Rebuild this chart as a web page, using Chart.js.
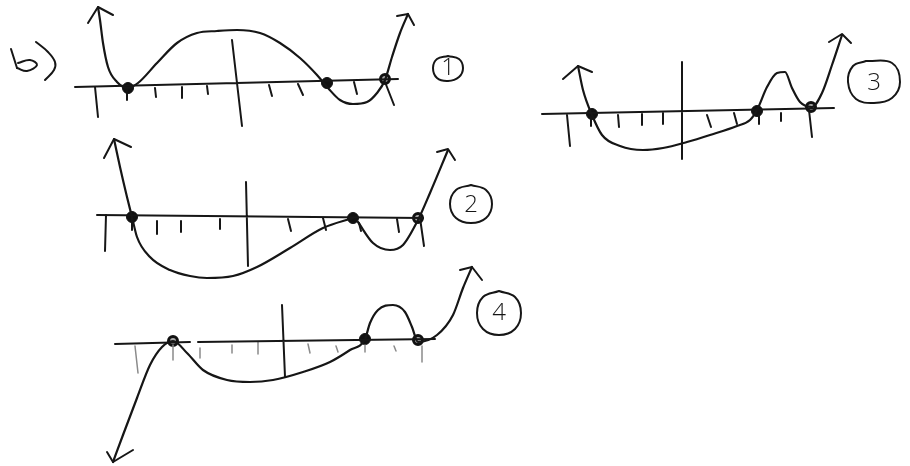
<!DOCTYPE html>
<html>
<head>
<meta charset="utf-8">
<style>
  html, body { margin: 0; padding: 0; background: #fff; }
  canvas { display: block; }
</style>
<script src="https://cdn.jsdelivr.net/npm/chart.js@4"></script>
</head>
<body>
<canvas id="chart" width="910" height="466"></canvas>
<script>
const curve1 = [[98,7],[100,20],[103,43],[108,67],[117,82],[128,88],[138,83],[157,63],[177,43],[197,33],[217,31],[237,30],[260,33],[280,43],[300,58],[317,75],[328,88],[340,100],[353,104],[367,102],[377,93],[385,80],[392,57],[400,33],[408,14]];
const curve2 = [[114,139],[120,167],[127,197],[132,217],[137,237],[150,257],[170,270],[190,276],[207,278],[233,276],[257,267],[290,248],[323,228],[353,218]];
const curve2b = [[358,222],[373,243],[390,250],[403,245],[418,220],[430,193],[448,150]];
const curve3 = [[578,66],[583,90],[592,115],[602,135],[620,146],[643,150],[663,148],[687,142],[710,135],[737,126],[750,120],[757,110],[767,87],[777,73],[785,72],[792,88],[800,102],[812,107],[822,93],[832,65],[842,35]];
const curve4 = [[113,462],[123,435],[137,398],[150,365],[162,347],[173,341],[187,353],[203,370],[227,380],[250,382],[273,380],[303,372],[330,362],[350,350],[365,339],[370,323],[378,310],[393,305],[405,312],[412,327],[418,342],[437,335],[453,315],[463,288],[472,267]];

const axes = [
  [[75,87],[398,79]], [[232,40],[242,126]],
  [[97,215],[423,218]], [[246,182],[248,266]],
  [[542,114],[834,108]], [[682,62],[682,159]],
  [[115,344],[190,342]], [[198,342],[435,339]], [[282,305],[285,377]]
];
const arrows = [
  [[88,23],[98,7],[113,15]], [[397,16],[408,14],[414,25]],
  [[104,158],[114,139],[131,147]], [[437,152],[448,149],[455,160]],
  [[563,79],[578,66],[592,72]], [[829,42],[842,34],[851,43]],
  [[107,452],[113,462],[133,450]], [[460,270],[472,267],[482,280]]
];
const ticks = [
  [[95,87],[98,117]], [[127,90],[127,100]], [[155,88],[156,97]], [[182,87],[182,98]], [[207,86],[208,94]],
  [[269,85],[272,96]], [[298,84],[303,95]], [[354,82],[357,94]], [[385,82],[394,105]],
  [[106,215],[105,251]], [[132,218],[132,230]], [[157,221],[157,234]], [[181,221],[181,232]], [[220,219],[220,229]],
  [[288,219],[291,231]], [[323,218],[326,230]], [[359,223],[361,231]], [[397,219],[399,232]], [[420,218],[424,246]],
  [[567,115],[570,146]], [[591,117],[591,126]], [[618,115],[619,127]], [[642,114],[642,125]], [[663,113],[663,124]],
  [[707,115],[711,127]], [[734,113],[737,124]], [[759,115],[759,124]], [[781,113],[781,121]], [[809,110],[812,137]]
];
const faintTicks = [
  [[135,346],[138,373]], [[173,345],[173,360]], [[200,348],[200,358]], [[232,345],[232,353]], [[258,342],[258,354]],
  [[308,344],[310,353]], [[336,346],[338,352]], [[365,345],[365,352]], [[394,346],[396,351]], [[422,346],[422,362]]
];
const darkDots = [[128,88],[327,83],[132,217],[353,218],[592,114],[757,111],[365,339]];
const ringDots = [[385,79],[418,218],[811,107],[173,341],[418,340]];

const rings = [
  [[448,56],[459,59],[463,68],[459,77],[448,81],[437,78],[433,68],[437,59],[448,56]],
  [[471,185],[486,190],[492,204],[486,218],[471,223],[456,218],[450,204],[456,190],[471,185]],
  [[866,61],[892,63],[900,82],[892,98],[874,103],[856,99],[848,82],[853,66],[866,61]],
  [[499,291],[515,297],[521,313],[515,329],[499,335],[483,329],[477,313],[483,297],[499,291]]
];
const bStem = [[11,49],[17,68]];
const bBowl = [[17,68],[27,71],[37,65],[30,60],[18,63]];
const bParen = [[36,42],[48,52],[55,62],[54,70],[45,80]];

const labelText = ["1", "2", "3", "4"];
const labelX = [448, 471, 874, 499];
const labelY = [68, 205, 83, 313];

const ink = "#161616";
const toXY = p => ({x: p[0], y: p[1]});
// join separate strokes into one dataset, a null point lifts the pen
const strokes = list => list.flatMap(s => s.map(toXY).concat({x: null, y: null}));

const line = (pts, width, color, tension) => ({
  data: pts, showLine: true, borderColor: color || ink, borderWidth: width,
  tension: tension || 0, pointRadius: 0, fill: false, spanGaps: false,
  borderCapStyle: "round", borderJoinStyle: "round"
});
const curve = pts => ({...line(pts.map(toXY), 2.2), cubicInterpolationMode: "monotone"});

// digits go through the same scales as the strokes
const labelPlugin = {
  id: "labels",
  afterDatasetsDraw(chart) {
    const c = chart.ctx;
    c.save();
    c.fillStyle = ink;
    c.font = "300 24px 'Open Sans'";
    c.textAlign = "center";
    c.textBaseline = "middle";
    labelText.forEach((t, i) => {
      c.fillText(t, chart.scales.x.getPixelForValue(labelX[i]), chart.scales.y.getPixelForValue(labelY[i]));
    });
    c.restore();
  }
};

new Chart(document.getElementById("chart"), {
  type: "scatter",
  data: {
    datasets: [
      line(strokes(axes), 2),
      line(strokes(ticks), 2),
      line(strokes(faintTicks), 1.5, "#8a8a8a"),
      line(strokes(arrows), 2),
      curve(curve1),
      curve(curve2),
      curve(curve2b),
      curve(curve3),
      curve(curve4),
      line(strokes(rings), 2, ink, 0.4),
      line(bStem.map(toXY), 2),
      line(bBowl.map(toXY), 2, ink, 0.4),
      line(bParen.map(toXY), 2, ink, 0.4),
      {data: darkDots.map(toXY), pointRadius: 5.5, pointBackgroundColor: "#111", pointBorderColor: "#111", showLine: false},
      {data: ringDots.map(toXY), pointRadius: 4.5, pointBackgroundColor: "#aaa", pointBorderColor: "#111", pointBorderWidth: 3, showLine: false}
    ]
  },
  options: {
    responsive: false,
    animation: false,
    layout: {padding: 0, autoPadding: false},
    plugins: {legend: {display: false}, tooltip: {enabled: false}},
    scales: {
      x: {type: "linear", display: false, min: 0, max: 910},
      y: {type: "linear", display: false, min: 0, max: 466, reverse: true}
    }
  },
  plugins: [labelPlugin]
});
</script>
</body>
</html>
